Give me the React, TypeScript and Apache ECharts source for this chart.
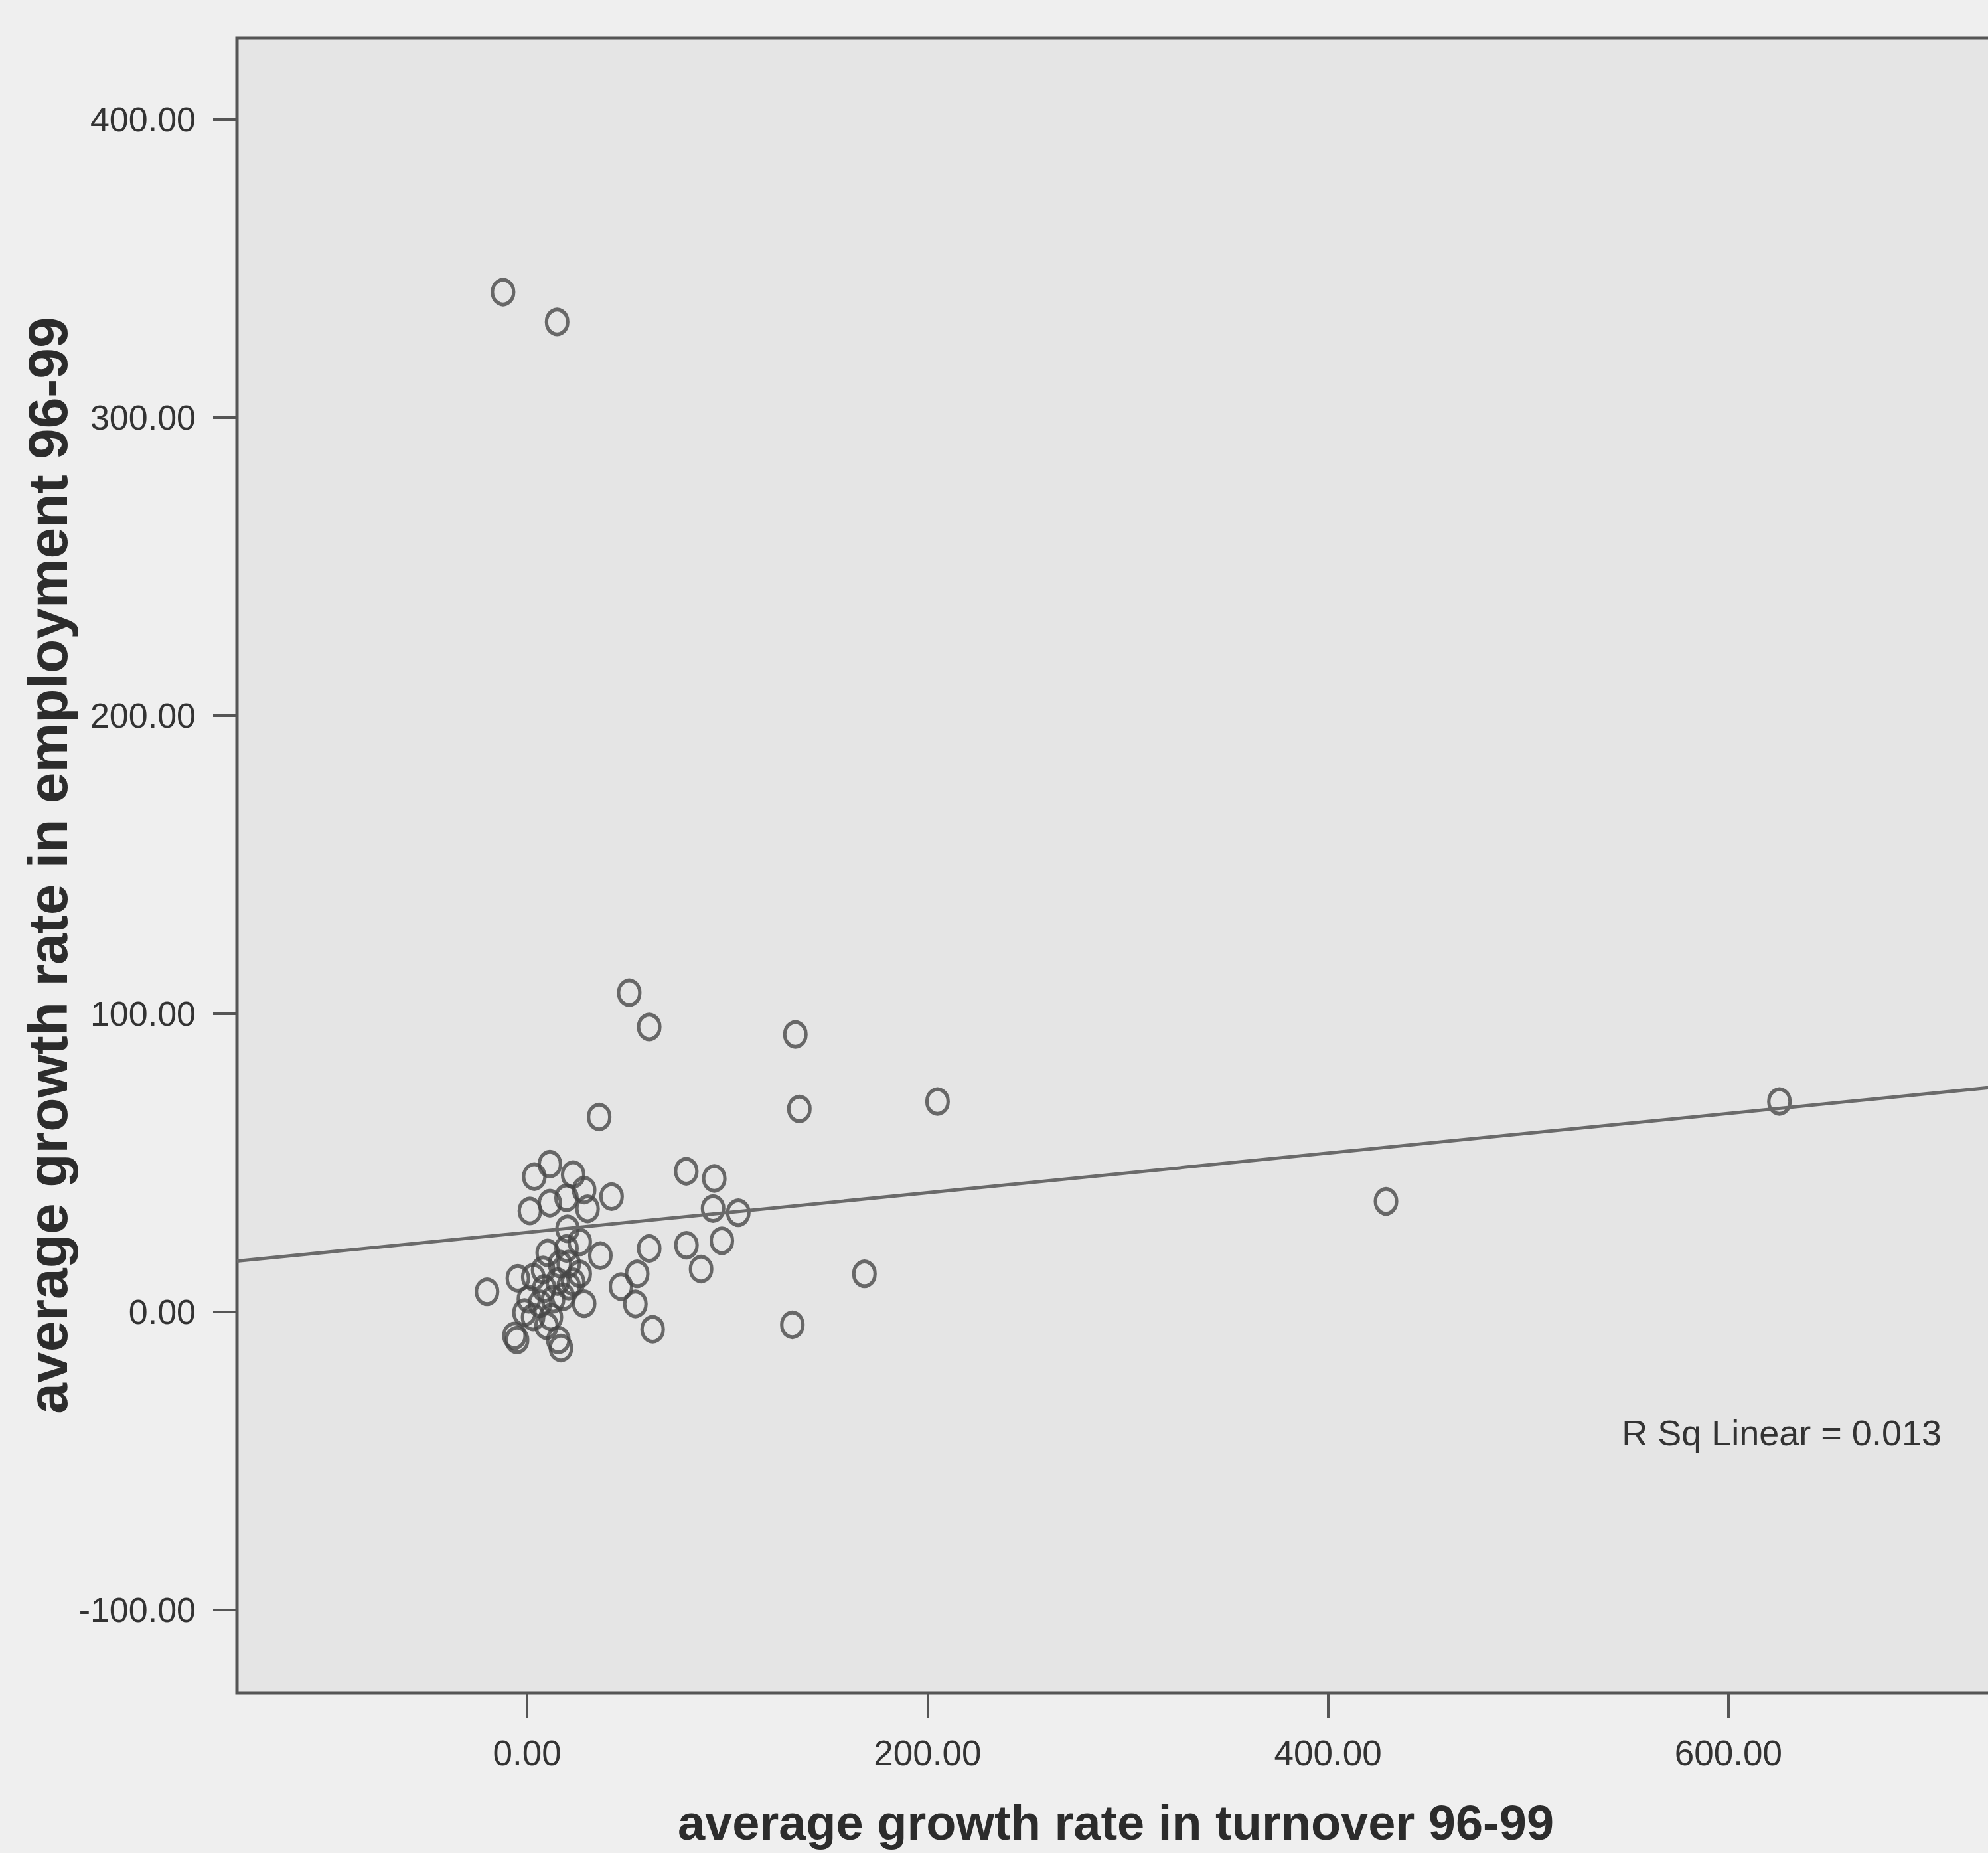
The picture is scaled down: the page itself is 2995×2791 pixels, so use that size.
import React, { useEffect, useRef } from "react";
import * as echarts from "echarts";

// Scatter data (x: turnover growth, y: employment growth)
const turnoverGrowth = [
  -12, 15, 51, 61, 134, 136, 205, 625.5, 429, 168.5, 132.5, 36, 62.7, -20,
  11.4, 3.6, 23, 28.5, 1.4, 11.4, 19.7, 30.2, 42.2, 79.5, 93.5, 92.9, 105.5,
  97.3, 79.6, 86.9, 61, 55, 46.9, 54.1, 20.2, 10.3, 19.7, 26.3, 36.6, 26.3,
  28.5, -4.6, -6.3, 16.9, 9.7, 3.1, 8.6, 15.3, 6.4, 13, 0.9, 20.8, -1.3, 11.9,
  20.8, 16.4, 3, -5, 15.6, 8, 18, 23,
];
const employmentGrowth = [
  342, 332, 107, 95.5, 93, 68, 70.5, 70.5, 37, 12.7, -4.4, 65.3, -5.9, 6.7,
  49.5, 45.3, 46, 40.8, 33.8, 36.4, 38.2, 34.5, 38.6, 47.1, 44.7, 34.6, 33.2,
  23.8, 22.3, 14.3, 21.2, 12.7, 8.4, 2.6, 27.8, 19.7, 21.2, 23.4, 18.8, 12.7,
  2.7, 11.2, -8.1, -12.2, -4.7, 11.6, 7.8, 10.1, 2.7, 4.2, 4.2, 8.6, -0.3, -1.8,
  16, 16, -1.8, -9.5, -9.5, 14, 5, 10,
];
const xTickValues = [0, 200, 400, 600];
const yTickValues = [-100, 0, 100, 200, 300, 400];
const fitIntercept = 26.6;
const fitSlope = 0.0665;
const rSquaredLabel = "R Sq Linear = 0.013";
const xTitle = "average growth rate in turnover 96-99";
const yTitle = "average growth rate in employment 96-99";

const X_MIN = -144.9;
const X_MAX = 733;
const Y_MIN = -127.9;
const Y_MAX = 427.3;

const SANS = "'Liberation Sans', Arial, sans-serif";

export default function App() {
  const ref = useRef<HTMLDivElement>(null);
  useEffect(() => {
    if (!ref.current) return;
    const chart = echarts.init(ref.current, null, { renderer: "svg" });
    const points = turnoverGrowth.map((x, i) => [x, employmentGrowth[i]]);
    const fitLine = [
      [X_MIN, fitIntercept + fitSlope * X_MIN],
      [X_MAX, fitIntercept + fitSlope * X_MAX],
    ];
    chart.setOption({
      animation: false,
      backgroundColor: "#efefef",
      grid: {
        left: 357,
        top: 57,
        right: -10,
        bottom: 241,
        show: true,
        backgroundColor: "#e5e5e5",
        borderColor: "#555555",
        borderWidth: 5,
        containLabel: false,
        outerBoundsMode: "none",
      },
      xAxis: {
        type: "value",
        min: X_MIN,
        max: X_MAX,
        splitLine: { show: false },
        axisLine: { show: false, onZero: false },
        axisTick: {
          show: true,
          customValues: xTickValues,
          length: 38,
          inside: false,
          lineStyle: { color: "#555", width: 4 },
        },
        axisLabel: {
          customValues: xTickValues,
          formatter: (v: number) => v.toFixed(2),
          margin: 90,
          verticalAlign: "middle",
          fontFamily: SANS,
          fontSize: 53,
          color: "#333333",
        },
        name: xTitle,
        nameLocation: "middle",
        nameGap: 195,
        nameMoveOverlap: false,
        nameTextStyle: {
          fontFamily: SANS,
          fontWeight: "bold",
          fontSize: 74,
          color: "#2c2c2c",
          verticalAlign: "middle",
        },
      },
      yAxis: {
        type: "value",
        min: Y_MIN,
        max: Y_MAX,
        splitLine: { show: false },
        axisLine: { show: false, onZero: false },
        axisTick: {
          show: true,
          customValues: yTickValues,
          length: 36,
          inside: false,
          lineStyle: { color: "#555", width: 4 },
        },
        axisLabel: {
          customValues: yTickValues,
          formatter: (v: number) => v.toFixed(2),
          margin: 62,
          fontFamily: SANS,
          fontSize: 52,
          color: "#333333",
        },
        name: yTitle,
        nameLocation: "middle",
        nameGap: 285,
        nameRotate: 90,
        nameMoveOverlap: false,
        nameTextStyle: {
          fontFamily: SANS,
          fontWeight: "bold",
          fontSize: 84,
          color: "#2c2c2c",
          verticalAlign: "middle",
        },
      },
      series: [
        {
          type: "scatter",
          data: points,
          symbol: "circle",
          symbolSize: [32, 37],
          itemStyle: {
            color: "rgba(0,0,0,0)",
            borderColor: "#474747",
            borderWidth: 5.5,
          },
          z: 2,
        },
        {
          type: "line",
          data: fitLine,
          showSymbol: false,
          symbol: "none",
          lineStyle: { color: "#6a6a6a", width: 5 },
          z: 3,
        },
      ],
      graphic: [
        {
          type: "text",
          x: 2925,
          y: 2158,
          style: {
            text: rSquaredLabel,
            font: `54px ${SANS}`,
            fill: "#333333",
            align: "right",
            verticalAlign: "middle",
          },
        },
      ],
    });
    return () => chart.dispose();
  }, []);
  return (
    <div
      ref={ref}
      style={{ position: "fixed", left: 0, top: 0, width: 2995, height: 2791 }}
    />
  );
}
